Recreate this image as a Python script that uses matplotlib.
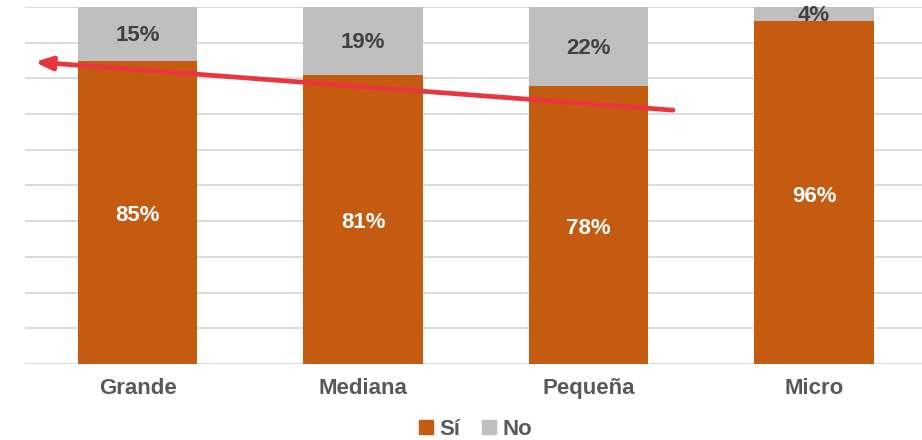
import numpy as np
import matplotlib.pyplot as plt
from matplotlib.patches import Patch

plt.rcParams['font.family'] = ['Liberation Sans', 'DejaVu Sans']

# datos
categorias = ['Grande', 'Mediana', 'Pequeña', 'Micro']
si = [85, 81, 78, 96]
no = [15, 19, 22, 4]

c_si = '#C55A11'
c_no = '#BFBFBF'

fig = plt.figure(figsize=(9.22, 4.40), dpi=100)
ax = fig.add_axes([24.75 / 922, 76 / 440, 902 / 922, 357 / 440])

x = np.arange(len(categorias))
si_f = np.array(si) / 100
no_f = np.array(no) / 100

ax.bar(x, si_f, width=0.528, color=c_si, zorder=2)
ax.bar(x, no_f, width=0.528, bottom=si_f, color=c_no, zorder=2)

for i in range(len(x)):
    ax.text(x[i], si_f[i] / 2 - 0.01, f'{si[i]}%', ha='center', va='center',
            color='white', fontsize=16, fontweight='bold', zorder=3)
    ax.text(x[i], si_f[i] + no_f[i] / 2 - 0.005, f'{no[i]}%', ha='center', va='center',
            color='#404040', fontsize=16, fontweight='bold', zorder=3)

ax.set_xlim(-0.5, 3.5)
ax.set_ylim(0, 1)
ax.set_yticks(np.arange(0, 1.01, 0.1))
ax.set_yticklabels([])
ax.grid(axis='y', color='#D9D9D9', linewidth=1.3, zorder=0)
ax.tick_params(length=0)
ax.set_xticks(x)
ax.set_xticklabels(categorias, fontsize=16, fontweight='bold', color='#595959')
ax.tick_params(axis='x', pad=10)
for s in ax.spines.values():
    s.set_visible(False)

# flecha roja de tendencia
ax.annotate('', xy=(-0.455, 0.846), xytext=(2.375, 0.711),
            arrowprops=dict(arrowstyle='-|>,head_length=1.0,head_width=0.4',
                            color='#E8363F', lw=3.4, shrinkA=0, shrinkB=0),
            zorder=4)

handles = [Patch(color=c_si, label='Sí'), Patch(color=c_no, label='No')]
fig.legend(handles=handles, loc='lower center', bbox_to_anchor=(475.75 / 922, -0.045),
           ncol=2, frameon=False, handlelength=0.6, handleheight=0.6,
           handletextpad=0.3, columnspacing=1.0,
           prop={'size': 16, 'weight': 'bold'}, labelcolor='#595959')

plt.savefig('out.png', dpi=100)
